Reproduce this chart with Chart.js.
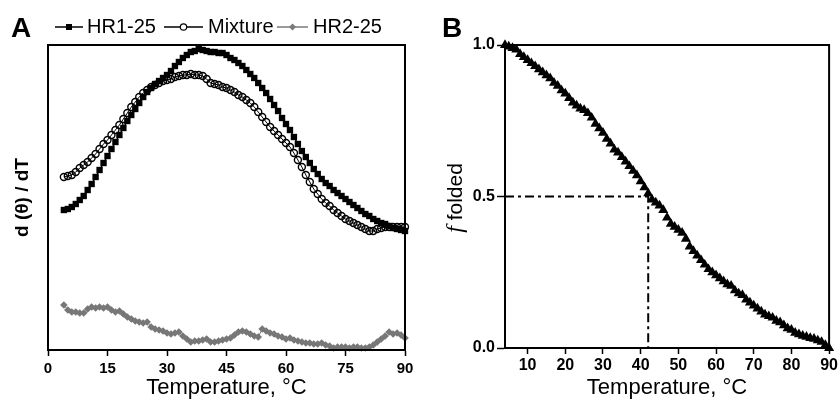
<!DOCTYPE html>
<html>
<head>
<meta charset="utf-8">
<script src="https://cdn.jsdelivr.net/npm/chart.js@4"></script>
<style>
  body { margin: 0; background: #fff; }
  .panel { position: absolute; top: 0; width: 420px; height: 405px; }
</style>
</head>
<body>
<div class="panel" style="left:0"><canvas id="chartA" width="420" height="405"></canvas></div>
<div class="panel" style="left:420px"><canvas id="chartB" width="420" height="405"></canvas></div>
<script>
// temperatures, °C (shared by both panels)
const temps = [4,5,6,7,8,9,10,11,12,13,14,15,16,17,18,19,20,21,22,23,24,25,26,27,28,29,30,31,32,33,34,35,36,37,38,39,40,41,42,43,44,45,46,47,48,49,50,51,52,53,54,55,56,57,58,59,60,61,62,63,64,65,66,67,68,69,70,71,72,73,74,75,76,77,78,79,80,81,82,83,84,85,86,87,88,89,90];

// panel A, d(theta)/dT in arbitrary units
const hr1 = [140,141,143,146,150,154,160,166,173,180,187,194,201,208,215,222,229,235,241,247,253,258,262,266,269,272,275,279,284,288,292,295,298,299,301,300,299,298,298,297,297,295,292,290,287,284,280,276,272,267,262,257,251,245,239,232,226,220,213,206,199,193,187,181,176,171,167,164,160,157,154,151,148,145,142,139,136,134,131,129,127,126,124,122,121,120,119];
const mixture = [173,174,175,178,182,185,188,192,196,201,206,210,215,220,225,231,237,243,248,253,257,260,263,265,267,269,270,271,273,274,275,275,276,275,275,274,271,267,266,265,263,262,260,258,255,253,250,247,243,238,233,228,223,219,215,211,207,203,197,190,183,175,168,161,156,151,147,144,140,137,134,131,129,127,125,123,121,119,119,121,122,123,123,123,123,123,123];
const hr2 = [45,40,38,38,37,37,41,43,42,43,42,43,40,38,39,36,33,31,29,28,27,28,23,21,20,19,17,16,17,18,14,11,8,9,9,10,11,8,8,9,10,11,12,15,18,19,18,16,14,13,21,19,17,16,14,13,11,12,10,9,8,7,7,6,6,7,5,4,2,3,3,3,2,3,3,2,2,3,5,8,11,14,18,16,17,15,12];
const xTicksA = [0,15,30,45,60,75,90];

// panel B, fraction folded
const folded = [1.00,0.995,0.99,0.985,0.97,0.96,0.95,0.94,0.93,0.92,0.91,0.90,0.89,0.875,0.865,0.85,0.84,0.825,0.81,0.80,0.79,0.785,0.775,0.76,0.74,0.725,0.71,0.69,0.675,0.655,0.645,0.63,0.615,0.60,0.585,0.57,0.55,0.53,0.51,0.49,0.48,0.47,0.455,0.43,0.41,0.40,0.39,0.38,0.36,0.335,0.32,0.305,0.29,0.275,0.26,0.25,0.24,0.23,0.22,0.21,0.205,0.19,0.18,0.175,0.16,0.15,0.14,0.13,0.12,0.11,0.105,0.10,0.09,0.085,0.075,0.065,0.06,0.05,0.045,0.04,0.037,0.033,0.03,0.025,0.02,0.01,0.0];
const tmX = [4,42,42];      // Tm guide line
const tmY = [0.5,0.5,0];
const xTicksB = [10,20,30,40,50,60,70,80,90];
const yTicksB = [0,0.5,1];

const FONT = "'Liberation Sans', Arial, sans-serif";
Chart.defaults.font.family = FONT;
Chart.defaults.color = '#000';

const pts = (ys) => temps.map((t, i) => ({x: t, y: ys[i]}));

// draws the plot frame and the panel letter
const framePlugin = {
  id: 'frame',
  afterDraw(chart, args, opts) {
    const {ctx, chartArea: a} = chart;
    ctx.save();
    ctx.strokeStyle = '#000';
    ctx.lineWidth = 2;
    ctx.strokeRect(a.left, a.top, a.right - a.left, a.bottom - a.top);
    ctx.font = 'bold 28px ' + FONT;
    ctx.fillStyle = '#000';
    ctx.textBaseline = 'alphabetic';
    ctx.fillText(opts.letter, opts.lx, 37);
    ctx.restore();
  }
};

// line + marker legend across the top of panel A
const legendA = {
  id: 'legendA',
  afterDraw(chart) {
    const ctx = chart.ctx;
    const items = [
      {x0: 55, x1: 83, tx: 87, label: 'HR1-25', color: '#000', mark: 'rect'},
      {x0: 164, x1: 203, tx: 208, label: 'Mixture', color: '#000', mark: 'circle'},
      {x0: 277, x1: 308, tx: 313, label: 'HR2-25', color: '#7a7a7a', mark: 'diamond'}
    ];
    const y = 27;
    ctx.save();
    items.forEach(it => {
      const mx = (it.x0 + it.x1) / 2;
      ctx.strokeStyle = it.color;
      ctx.fillStyle = it.color;
      ctx.lineWidth = 1.5;
      ctx.beginPath(); ctx.moveTo(it.x0, y); ctx.lineTo(it.x1, y); ctx.stroke();
      if (it.mark === 'rect') {
        ctx.fillRect(mx - 3, y - 3, 6, 6);
      } else if (it.mark === 'circle') {
        ctx.beginPath(); ctx.arc(mx, y, 3.2, 0, Math.PI * 2);
        ctx.fillStyle = '#fff'; ctx.fill(); ctx.lineWidth = 1.2; ctx.stroke();
      } else {
        ctx.beginPath(); ctx.moveTo(mx, y - 3.5); ctx.lineTo(mx + 3.5, y); ctx.lineTo(mx, y + 3.5); ctx.lineTo(mx - 3.5, y); ctx.closePath(); ctx.fill();
      }
      ctx.fillStyle = '#000';
      ctx.font = '20px ' + FONT;
      ctx.textBaseline = 'middle';
      ctx.fillText(it.label, it.tx, y);
    });
    ctx.restore();
  }
};

// y title of panel B with an italic f
const fTitle = {
  id: 'fTitle',
  afterDraw(chart) {
    const ctx = chart.ctx;
    ctx.save();
    ctx.translate(36, 198);
    ctx.rotate(-Math.PI / 2);
    ctx.fillStyle = '#000';
    ctx.textBaseline = 'middle';
    const fFont = 'italic 24px "Liberation Serif", serif';
    const tFont = '21px ' + FONT;
    ctx.font = fFont;
    const w1 = ctx.measureText('f').width;
    ctx.font = tFont;
    const w2 = ctx.measureText(' folded').width;
    const x0 = -(w1 + w2) / 2;
    ctx.font = fFont;
    ctx.fillText('f', x0, 0);
    ctx.font = tFont;
    ctx.fillText(' folded', x0 + w1, 0);
    ctx.restore();
  }
};

const tickAxis = (len) => ({
  display: true, drawOnChartArea: false, drawTicks: true,
  tickLength: len, tickColor: '#000', tickWidth: 1.5
});

new Chart(document.getElementById('chartA'), {
  type: 'line',
  data: {
    datasets: [
      {label: 'HR2-25', data: pts(hr2), borderColor: '#777', backgroundColor: '#777',
       borderWidth: 1, pointStyle: 'rectRot', pointRadius: 3.8, pointBorderWidth: 0, clip: false},
      {label: 'Mixture', data: pts(mixture), borderColor: '#000', backgroundColor: 'rgba(255,255,255,0)',
       borderWidth: 1, pointStyle: 'circle', pointRadius: 3.5, pointBorderWidth: 1.4, clip: false},
      {label: 'HR1-25', data: pts(hr1), borderColor: '#000', backgroundColor: '#000',
       borderWidth: 1.5, pointStyle: 'rect', pointRadius: 4.5, pointBorderWidth: 0, clip: false}
    ]
  },
  options: {
    responsive: false, animation: false,
    layout: {padding: {left: 0, top: 45, right: 15, bottom: 0}},
    plugins: {legend: {display: false}, tooltip: {enabled: false},
      frame: {letter: 'A', lx: 11}},
    scales: {
      x: {
        type: 'linear', min: 0, max: 90,
        afterBuildTicks: s => { s.ticks = xTicksA.map(v => ({value: v})); },
        afterFit: s => { s.height = 55; },
        ticks: {font: {size: 15, weight: 'bold'}, padding: 4, maxRotation: 0},
        grid: tickAxis(6),
        border: {display: true, color: '#000', width: 2},
        title: {display: true, text: 'Temperature, °C', font: {size: 22}, padding: {top: 0, bottom: 4}}
      },
      y: {
        min: 0, max: 305,
        afterFit: s => { s.width = 48; },
        ticks: {display: false},
        grid: {display: false},
        border: {display: true, color: '#000', width: 2},
        title: {display: true, text: 'd (θ) / dT', font: {size: 19, weight: 'bold'}, padding: {top: 11}}
      }
    }
  },
  plugins: [framePlugin, legendA]
});

new Chart(document.getElementById('chartB'), {
  type: 'line',
  data: {
    datasets: [
      {label: 'f folded', data: pts(folded), borderColor: '#000', backgroundColor: '#000',
       borderWidth: 0, showLine: false, pointStyle: 'triangle', pointRadius: 5.8, pointBorderWidth: 0, clip: false},
      {label: 'Tm', data: tmX.map((x, i) => ({x, y: tmY[i]})), borderColor: '#000', borderWidth: 2,
       borderDash: [9, 4, 3, 4], pointRadius: 0, tension: 0}
    ]
  },
  options: {
    responsive: false, animation: false,
    layout: {padding: {left: 0, top: 45, right: 9, bottom: 0}},
    plugins: {legend: {display: false}, tooltip: {enabled: false},
      frame: {letter: 'B', lx: 22}},
    scales: {
      x: {
        type: 'linear', min: 4, max: 90,
        afterBuildTicks: s => { s.ticks = xTicksB.map(v => ({value: v})); },
        afterFit: s => { s.height = 57; },
        ticks: {font: {size: 16, weight: 'bold'}, padding: 2, maxRotation: 0},
        grid: tickAxis(6),
        border: {display: true, color: '#000', width: 2},
        title: {display: true, text: 'Temperature, °C', font: {size: 22}, padding: {top: 0, bottom: 4}}
      },
      y: {
        min: 0, max: 1,
        afterBuildTicks: s => { s.ticks = yTicksB.map(v => ({value: v})); },
        afterFit: s => { s.width = 85; },
        ticks: {font: {size: 16, weight: 'bold'}, padding: 2, callback: v => v.toFixed(1)},
        grid: tickAxis(8),
        border: {display: true, color: '#000', width: 2},
        title: {display: false}
      }
    }
  },
  plugins: [framePlugin, fTitle]
});
</script>
</body>
</html>
